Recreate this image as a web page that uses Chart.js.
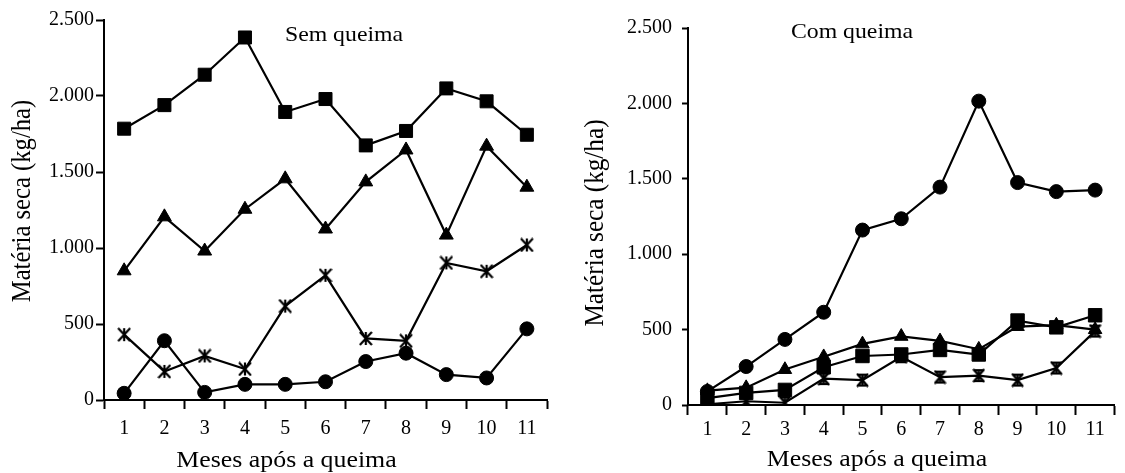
<!DOCTYPE html>
<html>
<head>
<meta charset="utf-8">
<script src="https://cdn.jsdelivr.net/npm/chart.js@4/dist/chart.umd.min.js"></script>
<style>
html,body{margin:0;padding:0;background:#fff;overflow:hidden;width:1125px;height:473px}
.panel{position:absolute;top:0}
</style>
</head>
<body>
<div class="panel" style="left:0;width:573px;height:473px"><canvas id="c1" width="573" height="473"></canvas></div>
<div class="panel" style="left:573px;width:552px;height:473px"><canvas id="c2" width="552" height="473"></canvas></div>
<script>
// ---------- data ----------
const months = ['1','2','3','4','5','6','7','8','9','10','11'];
const yTickLabels = ['0','500','1.000','1.500','2.000','2.500'];
const xAxisTitle = 'Meses após a queima';
const yAxisTitle = 'Matéria seca (kg/ha)';
const panelTitles = ['Sem queima', 'Com queima'];

// Sem queima
const semSquare   = [1785, 1940, 2140, 2385, 1895, 1980, 1675, 1770, 2050, 1965, 1745];
const semTriangle = [850, 1205, 980, 1255, 1455, 1125, 1435, 1645, 1085, 1670, 1400];
const semStar     = [430, 188, 290, 204, 618, 820, 405, 389, 902, 847, 1020];
const semCircle   = [44, 390, 50, 103, 103, 120, 253, 308, 167, 145, 468];

// Com queima
const comCircle   = [90, 255, 435, 615, 1160, 1235, 1445, 2015, 1475, 1415, 1425];
const comTriangle = [95, 115, 235, 320, 405, 455, 425, 370, 520, 530, 500];
const comSquare   = [45, 80, 100, 250, 325, 335, 365, 335, 560, 515, 595];
const comStar     = [5, 25, 15, 175, 165, 320, 185, 195, 165, 245, 490];

// ---------- styles ----------
const FONT = "'Liberation Serif', 'Times New Roman', serif";
Chart.defaults.font.family = FONT;
Chart.defaults.color = '#000';

function makeAsterisk(w, h, lw, capped) {
  const c = document.createElement('canvas');
  c.width = w; c.height = h;
  const g = c.getContext('2d');
  g.strokeStyle = '#000'; g.lineWidth = lw; g.lineCap = 'butt';
  const mx = w / 2, my = h / 2, hx = w / 2 - 1, hy = h / 2 - 1;
  g.beginPath();
  g.moveTo(mx - hx, my - hy); g.lineTo(mx + hx, my + hy);
  g.moveTo(mx + hx, my - hy); g.lineTo(mx - hx, my + hy);
  g.moveTo(mx, my - hy); g.lineTo(mx, my + hy);
  if (capped) {
    g.moveTo(mx - hx, my - hy + lw / 2); g.lineTo(mx + hx, my - hy + lw / 2);
    g.moveTo(mx - hx, my + hy - lw / 2); g.lineTo(mx + hx, my + hy - lw / 2);
  }
  g.stroke();
  return c;
}
const starLeft = makeAsterisk(14, 15, 2.2, false);
const starRight = makeAsterisk(13, 15, 2.2, true);

function ds(data, style, radius) {
  return {
    data: data,
    borderColor: '#000',
    backgroundColor: '#000',
    borderWidth: 2.2,
    pointStyle: style,
    pointRadius: radius,
    pointHoverRadius: radius,
    pointBorderWidth: 1,
    pointBackgroundColor: '#000',
    pointBorderColor: '#000',
    tension: 0,
    fill: false
  };
}

function drawText(ctx, text, x, y, size, sx, rot) {
  ctx.save();
  ctx.translate(x, y);
  if (rot) ctx.rotate(rot);
  ctx.scale(sx, 1);
  ctx.font = size + 'px ' + FONT;
  ctx.fillStyle = '#000';
  ctx.textAlign = 'center';
  ctx.textBaseline = rot ? 'middle' : 'alphabetic';
  ctx.fillText(text, 0, 0);
  ctx.restore();
}

const textPlugin = {
  id: 'panelTexts',
  afterDraw(chart, args, o) {
    const ctx = chart.ctx;
    drawText(ctx, o.title, o.titleX, o.titleY, o.titleSize, o.titleSx, 0);
    drawText(ctx, xAxisTitle, o.xTitleX, o.xTitleY, o.xTitleSize, o.xTitleSx, 0);
    drawText(ctx, yAxisTitle, o.yTitleX, o.yTitleY, o.yTitleSize, o.yTitleSx, -Math.PI / 2);
  }
};

function makeConfig(datasets, L) {
  return {
    type: 'line',
    data: { labels: months, datasets: datasets },
    options: {
      responsive: false,
      maintainAspectRatio: false,
      animation: false,
      layout: { padding: L.pad },
      plugins: {
        legend: { display: false },
        tooltip: { enabled: false },
        title: { display: false },
        panelTexts: L.texts
      },
      scales: {
        x: {
          type: 'category',
          offset: true,
          grid: { display: true, offset: true, drawOnChartArea: false, drawTicks: true,
                  tickLength: L.xTickLen, tickColor: '#000', tickWidth: 2 },
          border: { display: true, color: '#000', width: 2 },
          ticks: { font: { size: 20 }, color: '#000', padding: L.xPad, maxRotation: 0, autoSkip: false },
          afterFit: s => { s.height = L.xHeight; }
        },
        y: {
          min: 0, max: 2500,
          grid: { display: true, drawOnChartArea: false, drawTicks: true,
                  tickLength: L.yTickLen, tickColor: '#000', tickWidth: 2 },
          border: { display: true, color: '#000', width: 2 },
          ticks: { stepSize: 500, font: { size: 20 }, color: '#000', padding: L.yPad,
                   callback: v => yTickLabels[Math.round(v / 500)] },
          afterFit: s => { s.width = L.axisWidth; }
        }
      }
    },
    plugins: [textPlugin]
  };
}

const leftLayout = {
  pad: { top: 20, right: 26, left: 0, bottom: 0 },
  axisWidth: 104, xHeight: 73, yTickLen: 8, yPad: 2, xTickLen: 9, xPad: 8,
  texts: { title: panelTitles[0], titleX: 344, titleY: 41, titleSize: 22, titleSx: 1.08,
           xTitleX: 286.5, xTitleY: 466.5, xTitleSize: 23.5, xTitleSx: 1.1,
           yTitleX: 23, yTitleY: 201, yTitleSize: 28, yTitleSx: 0.88 }
};
const rightLayout = {
  pad: { top: 28, right: 0, left: 0, bottom: 0 },
  axisWidth: 115, xHeight: 68, yTickLen: 6, yPad: 10, xTickLen: 10, xPad: 3,
  texts: { title: panelTitles[1], titleX: 279, titleY: 37.5, titleSize: 22, titleSx: 1.08,
           xTitleX: 304, xTitleY: 466, xTitleSize: 23.5, xTitleSx: 1.1,
           yTitleX: 23, yTitleY: 223, yTitleSize: 28, yTitleSx: 0.9 }
};

new Chart(document.getElementById('c1'), makeConfig([
  ds(semSquare, 'rect', 9.2),
  ds(semTriangle, 'triangle', 8),
  ds(semStar, starLeft, 7),
  ds(semCircle, 'circle', 7)
], leftLayout));

new Chart(document.getElementById('c2'), makeConfig([
  ds(comStar, starRight, 7),
  ds(comSquare, 'rect', 9.5),
  ds(comTriangle, 'triangle', 7.8),
  ds(comCircle, 'circle', 7)
], rightLayout));
</script>
</body>
</html>
